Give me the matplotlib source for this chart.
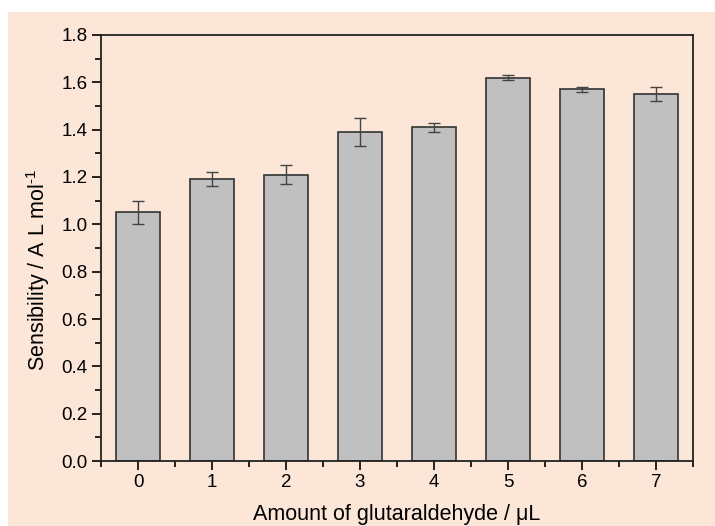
import numpy as np
import matplotlib.pyplot as plt
from matplotlib.patches import Rectangle

# Данные
amounts = [0, 1, 2, 3, 4, 5, 6, 7]
sensibility = [1.05, 1.19, 1.21, 1.39, 1.41, 1.62, 1.57, 1.55]
errors = [0.05, 0.03, 0.04, 0.06, 0.02, 0.01, 0.01, 0.03]

plt.rcParams['font.family'] = ['Liberation Sans', 'DejaVu Sans']
plt.rcParams['mathtext.fontset'] = 'custom'
plt.rcParams['mathtext.rm'] = 'Liberation Sans'

fig = plt.figure(figsize=(7.15, 5.26), dpi=100)
fig.patch.set_facecolor('white')
# персиковый фон (под осями)
fig.patches.append(Rectangle((8 / 715, 0), 1, 1 - 12 / 526, transform=fig.transFigure,
                             facecolor='#fbe6d8', edgecolor='none', zorder=-10))

ax = fig.add_axes([101 / 715, 1 - 461 / 526, (693 - 101) / 715, (461 - 35) / 526])
ax.set_facecolor('#fbe6d8')

ax.bar(amounts, sensibility, width=0.6, color='#c0c0c0', edgecolor='#333333',
       linewidth=1.2, zorder=2)
ax.errorbar(amounts, sensibility, yerr=errors, fmt='none', ecolor='#444444',
            elinewidth=1.0, capsize=4, capthick=1.0, zorder=3)

ax.set_xlim(-0.5, 7.5)
ax.set_ylim(0, 1.8)
ax.set_xticks(amounts)
ax.set_xticks(np.arange(-0.5, 7.6, 1), minor=True)
ax.set_yticks(np.arange(0, 1.81, 0.2))
ax.set_yticks(np.arange(0.1, 1.8, 0.2), minor=True)
ax.yaxis.set_major_formatter(plt.FormatStrFormatter('%.1f'))

ax.tick_params(which='major', direction='out', length=6.5, width=1.2, labelsize=13.5,
               pad=3)
ax.tick_params(which='minor', direction='out', length=4, width=1.2)
for s in ax.spines.values():
    s.set_linewidth(1.3)
    s.set_color('#222222')

ax.set_xlabel('Amount of glutaraldehyde / μL', fontsize=15.5, labelpad=9)
ax.set_ylabel('Sensibility / A L mol$^{\\text{-1}}$', fontsize=15.5)
ax.yaxis.set_label_coords(-0.083, 0.45)

fig.savefig('out.png', dpi=100)
